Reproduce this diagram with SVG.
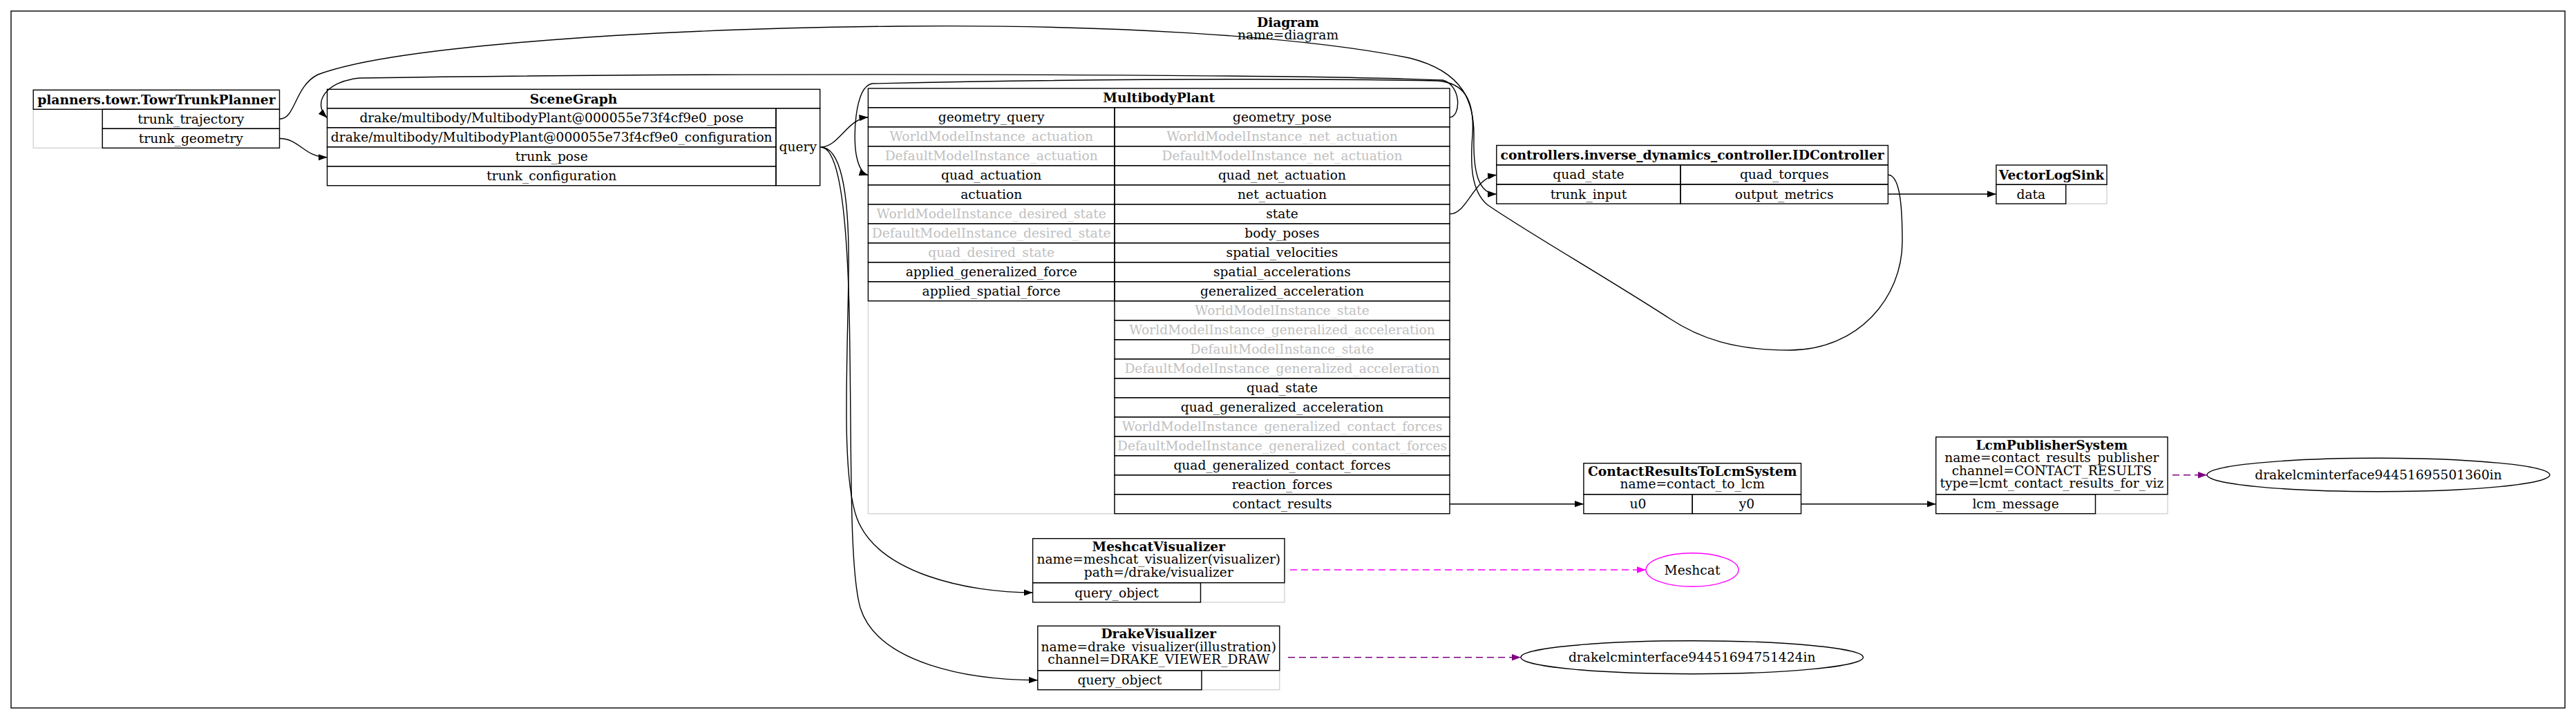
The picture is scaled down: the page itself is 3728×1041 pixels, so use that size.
<svg xmlns="http://www.w3.org/2000/svg" width="3728" height="1041" viewBox="0 0 3728 1041">
<style>
.t{font-family:"DejaVu Serif",serif;font-size:18.67px;text-anchor:middle;fill:#000}
.b{font-weight:bold}
.g{fill:#c0c0c0}
.c{fill:none;stroke:#000;stroke-width:1.4}
.e{fill:none;stroke:#d3d3d3;stroke-width:1.4}
.ed{fill:none;stroke:#000;stroke-width:1.4}
.dp{fill:none;stroke:#800080;stroke-width:1.6;stroke-dasharray:10,6}
.dm{fill:none;stroke:#ff00ff;stroke-width:1.6;stroke-dasharray:10,6}
</style>
<defs>
<marker id="ah" markerUnits="userSpaceOnUse" markerWidth="14" markerHeight="10" refX="13" refY="4.7" orient="auto"><path d="M0,0L13,4.7L0,9.4z" fill="#000"/></marker>
<marker id="ahp" markerUnits="userSpaceOnUse" markerWidth="14" markerHeight="10" refX="13" refY="4.7" orient="auto"><path d="M0,0L13,4.7L0,9.4z" fill="#800080"/></marker>
<marker id="ahm" markerUnits="userSpaceOnUse" markerWidth="14" markerHeight="10" refX="13" refY="4.7" orient="auto"><path d="M0,0L13,4.7L0,9.4z" fill="#ff00ff"/></marker>
</defs>
<rect x="0" y="0" width="3728" height="1041" fill="#fff"/>
<g id="diagram">
<rect x="16" y="16" width="3696" height="1009" fill="none" stroke="#000" stroke-width="1.4"/>
<text class="t b" x="1864" y="38.5">Diagram</text>
<text class="t" x="1864" y="57">name=diagram</text>
</g>

<g id="towr">
<rect class="e" x="48.2" y="158.3" width="100" height="56"/>
<rect class="c" x="48.2" y="130.3" width="356.3" height="28"/>
<rect class="c" x="148.2" y="158.3" width="256.3" height="28"/>
<rect class="c" x="148.2" y="186.3" width="256.3" height="28"/>
<text class="t b" x="226.35" y="150.8">planners.towr.TowrTrunkPlanner</text>
<text class="t" x="276.35" y="178.8">trunk_trajectory</text>
<text class="t" x="276.35" y="206.8">trunk_geometry</text>
</g>

<g id="scenegraph">
<rect class="c" x="473.5" y="129.3" width="713.2" height="27.4"/>
<rect class="c" x="473.5" y="156.7" width="649.5" height="28"/>
<rect class="c" x="473.5" y="184.7" width="649.5" height="28"/>
<rect class="c" x="473.5" y="212.7" width="649.5" height="28"/>
<rect class="c" x="473.5" y="240.7" width="649.5" height="28"/>
<rect class="c" x="1123" y="156.7" width="63.7" height="112"/>
<text class="t b" x="830.1" y="149.5">SceneGraph</text>
<text class="t" x="798.25" y="177.2">drake/multibody/MultibodyPlant@000055e73f4cf9e0_pose</text>
<text class="t" x="798.25" y="205.2">drake/multibody/MultibodyPlant@000055e73f4cf9e0_configuration</text>
<text class="t" x="798.25" y="233.2">trunk_pose</text>
<text class="t" x="798.25" y="261.2">trunk_configuration</text>
<text class="t" x="1154.85" y="219.2">query</text>
</g>

<g id="plant">
<rect class="e" x="1256.4" y="435.7" width="356.6" height="308"/>
<rect class="c" x="1256.4" y="128" width="841.6" height="27.7"/>
<rect class="c" x="1256.4" y="155.7" width="356.6" height="28"/>
<rect class="c" x="1256.4" y="183.7" width="356.6" height="28"/>
<rect class="c" x="1256.4" y="211.7" width="356.6" height="28"/>
<rect class="c" x="1256.4" y="239.7" width="356.6" height="28"/>
<rect class="c" x="1256.4" y="267.7" width="356.6" height="28"/>
<rect class="c" x="1256.4" y="295.7" width="356.6" height="28"/>
<rect class="c" x="1256.4" y="323.7" width="356.6" height="28"/>
<rect class="c" x="1256.4" y="351.7" width="356.6" height="28"/>
<rect class="c" x="1256.4" y="379.7" width="356.6" height="28"/>
<rect class="c" x="1256.4" y="407.7" width="356.6" height="28"/>
<rect class="c" x="1613" y="155.7" width="485" height="28"/>
<rect class="c" x="1613" y="183.7" width="485" height="28"/>
<rect class="c" x="1613" y="211.7" width="485" height="28"/>
<rect class="c" x="1613" y="239.7" width="485" height="28"/>
<rect class="c" x="1613" y="267.7" width="485" height="28"/>
<rect class="c" x="1613" y="295.7" width="485" height="28"/>
<rect class="c" x="1613" y="323.7" width="485" height="28"/>
<rect class="c" x="1613" y="351.7" width="485" height="28"/>
<rect class="c" x="1613" y="379.7" width="485" height="28"/>
<rect class="c" x="1613" y="407.7" width="485" height="28"/>
<rect class="c" x="1613" y="435.7" width="485" height="28"/>
<rect class="c" x="1613" y="463.7" width="485" height="28"/>
<rect class="c" x="1613" y="491.7" width="485" height="28"/>
<rect class="c" x="1613" y="519.7" width="485" height="28"/>
<rect class="c" x="1613" y="547.7" width="485" height="28"/>
<rect class="c" x="1613" y="575.7" width="485" height="28"/>
<rect class="c" x="1613" y="603.7" width="485" height="28"/>
<rect class="c" x="1613" y="631.7" width="485" height="28"/>
<rect class="c" x="1613" y="659.7" width="485" height="28"/>
<rect class="c" x="1613" y="687.7" width="485" height="28"/>
<rect class="c" x="1613" y="715.7" width="485" height="28"/>
<text class="t b" x="1677.2" y="148.3">MultibodyPlant</text>
<text class="t" x="1434.7" y="176.2">geometry_query</text>
<text class="t g" x="1434.7" y="204.2">WorldModelInstance_actuation</text>
<text class="t g" x="1434.7" y="232.2">DefaultModelInstance_actuation</text>
<text class="t" x="1434.7" y="260.2">quad_actuation</text>
<text class="t" x="1434.7" y="288.2">actuation</text>
<text class="t g" x="1434.7" y="316.2">WorldModelInstance_desired_state</text>
<text class="t g" x="1434.7" y="344.2">DefaultModelInstance_desired_state</text>
<text class="t g" x="1434.7" y="372.2">quad_desired_state</text>
<text class="t" x="1434.7" y="400.2">applied_generalized_force</text>
<text class="t" x="1434.7" y="428.2">applied_spatial_force</text>
<text class="t" x="1855.5" y="176.2">geometry_pose</text>
<text class="t g" x="1855.5" y="204.2">WorldModelInstance_net_actuation</text>
<text class="t g" x="1855.5" y="232.2">DefaultModelInstance_net_actuation</text>
<text class="t" x="1855.5" y="260.2">quad_net_actuation</text>
<text class="t" x="1855.5" y="288.2">net_actuation</text>
<text class="t" x="1855.5" y="316.2">state</text>
<text class="t" x="1855.5" y="344.2">body_poses</text>
<text class="t" x="1855.5" y="372.2">spatial_velocities</text>
<text class="t" x="1855.5" y="400.2">spatial_accelerations</text>
<text class="t" x="1855.5" y="428.2">generalized_acceleration</text>
<text class="t g" x="1855.5" y="456.2">WorldModelInstance_state</text>
<text class="t g" x="1855.5" y="484.2">WorldModelInstance_generalized_acceleration</text>
<text class="t g" x="1855.5" y="512.2">DefaultModelInstance_state</text>
<text class="t g" x="1855.5" y="540.2">DefaultModelInstance_generalized_acceleration</text>
<text class="t" x="1855.5" y="568.2">quad_state</text>
<text class="t" x="1855.5" y="596.2">quad_generalized_acceleration</text>
<text class="t g" x="1855.5" y="624.2">WorldModelInstance_generalized_contact_forces</text>
<text class="t g" x="1855.5" y="652.2">DefaultModelInstance_generalized_contact_forces</text>
<text class="t" x="1855.5" y="680.2">quad_generalized_contact_forces</text>
<text class="t" x="1855.5" y="708.2">reaction_forces</text>
<text class="t" x="1855.5" y="736.2">contact_results</text>
</g>

<g id="idcontroller">
<rect class="c" x="2165.8" y="210.5" width="566.6" height="28.3"/>
<rect class="c" x="2165.8" y="238.8" width="266.2" height="28.1"/>
<rect class="c" x="2165.8" y="266.9" width="266.2" height="28.1"/>
<rect class="c" x="2432" y="238.8" width="300.4" height="28.1"/>
<rect class="c" x="2432" y="266.9" width="300.4" height="28.1"/>
<text class="t b" x="2449.1" y="231.1">controllers.inverse_dynamics_controller.IDController</text>
<text class="t" x="2298.9" y="259.4">quad_state</text>
<text class="t" x="2298.9" y="287.5">trunk_input</text>
<text class="t" x="2582.2" y="259.4">quad_torques</text>
<text class="t" x="2582.2" y="287.5">output_metrics</text>
</g>

<g id="vectorlogsink">
<rect class="e" x="2989.7" y="267.3" width="59.3" height="27.7"/>
<rect class="c" x="2888.9" y="239" width="160.1" height="28.3"/>
<rect class="c" x="2888.9" y="267.3" width="100.8" height="27.7"/>
<text class="t b" x="2969" y="259.6">VectorLogSink</text>
<text class="t" x="2939.3" y="287.6">data</text>
</g>

<g id="contact_to_lcm">
<rect class="c" x="2291.9" y="670.7" width="314.6" height="45"/>
<rect class="c" x="2291.9" y="715.7" width="157.3" height="28"/>
<rect class="c" x="2449.2" y="715.7" width="157.3" height="28"/>
<text class="t b" x="2449.2" y="688.7">ContactResultsToLcmSystem</text>
<text class="t" x="2449.2" y="707.2">name=contact_to_lcm</text>
<text class="t" x="2370.5" y="736.2">u0</text>
<text class="t" x="2527.9" y="736.2">y0</text>
</g>

<g id="contact_results_publisher">
<rect class="e" x="3032.5" y="715.7" width="104.5" height="28"/>
<rect class="c" x="2801.7" y="632.7" width="335.3" height="83"/>
<rect class="c" x="2801.7" y="715.7" width="230.8" height="28"/>
<text class="t b" x="2969.35" y="650.7">LcmPublisherSystem</text>
<text class="t" x="2969.35" y="669.2">name=contact_results_publisher</text>
<text class="t" x="2969.35" y="687.7">channel=CONTACT_RESULTS</text>
<text class="t" x="2969.35" y="706.2">type=lcmt_contact_results_for_viz</text>
<text class="t" x="2917.1" y="736.2">lcm_message</text>
</g>

<g id="lcm_in_1">
<ellipse cx="3442" cy="687.5" rx="248" ry="24.2" fill="none" stroke="#000" stroke-width="1.4"/>
<text class="t" x="3442" y="694">drakelcminterface94451695501360in</text>
</g>

<g id="meshcat_visualizer">
<rect class="e" x="1737.5" y="843.7" width="121.5" height="28.3"/>
<rect class="c" x="1494.6" y="779.7" width="364.4" height="64"/>
<rect class="c" x="1494.6" y="843.7" width="242.9" height="28.3"/>
<text class="t b" x="1676.8" y="797.7">MeshcatVisualizer</text>
<text class="t" x="1676.8" y="816.2">name=meshcat_visualizer(visualizer)</text>
<text class="t" x="1676.8" y="834.7">path=/drake/visualizer</text>
<text class="t" x="1616" y="864.5">query_object</text>
</g>

<g id="meshcat">
<ellipse cx="2449" cy="825" rx="67" ry="24.3" fill="none" stroke="#ff00ff" stroke-width="1.4"/>
<text class="t" x="2449" y="831.5">Meshcat</text>
</g>

<g id="drake_visualizer">
<rect class="e" x="1739" y="970.7" width="112.8" height="28"/>
<rect class="c" x="1501.8" y="906.3" width="350" height="64.4"/>
<rect class="c" x="1501.8" y="970.7" width="237.2" height="28"/>
<text class="t b" x="1676.8" y="924.3">DrakeVisualizer</text>
<text class="t" x="1676.8" y="942.8">name=drake_visualizer(illustration)</text>
<text class="t" x="1676.8" y="961.3">channel=DRAKE_VIEWER_DRAW</text>
<text class="t" x="1620.4" y="991.2">query_object</text>
</g>

<g id="lcm_in_2">
<ellipse cx="2448.7" cy="951.7" rx="247.7" ry="24" fill="none" stroke="#000" stroke-width="1.4"/>
<text class="t" x="2448.7" y="958.2">drakelcminterface94451694751424in</text>
</g>

<g id="connectors">
<path class="ed" marker-end="url(#ah)" d="M404.5,172.3 C428,172.3 426,125 460,108 C560,70 900,42 1300,38 C1600,35 1880,52 2040,84 C2120,104 2134,150 2133,200 C2132,250 2140,281 2166,281"/>
<path class="ed" marker-end="url(#ah)" d="M404.5,200.5 C434,200.5 440,227.7 473.5,227.7"/>
<path class="ed" marker-end="url(#ah)" d="M2098,169.7 C2114,169.7 2116,124 2088,116 C1900,108 1100,104 520,113 C470,118 452,150 473.5,170.7"/>
<path class="ed" marker-end="url(#ah)" d="M1187.7,213 C1214,213 1226,172 1256.4,169.7"/>
<path class="ed" marker-end="url(#ah)" d="M2732.4,253 C2750,254 2753,300 2753,350 C2753,430 2690,507 2590,507 C2510,507 2460,490 2416,461 C2330,405 2200,330 2152,296 C2128,275 2128,235 2131,195 C2134,145 2120,120 2080,117 C1800,112 1500,116 1262,121 C1236,126 1234,205 1240,228 C1243,242 1248,251 1256.4,253.7"/>
<path class="ed" marker-end="url(#ah)" d="M2098,309.7 C2124,309.7 2132,258 2166,253.3"/>
<path class="ed" marker-end="url(#ah)" d="M1187.7,213 C1215,213 1230,270 1228,400 C1226,540 1218,690 1240,750 C1270,830 1400,858 1494.6,858"/>
<path class="ed" marker-end="url(#ah)" d="M1187.7,213 C1212,213 1225,290 1229,450 C1233,640 1228,820 1245,880 C1270,960 1400,984.7 1501.8,984.7"/>
<path class="ed" marker-end="url(#ah)" d="M2098,729.7 L2291.9,729.7"/>
<path class="ed" marker-end="url(#ah)" d="M2606.5,729.7 L2801.7,729.7"/>
<path class="ed" marker-end="url(#ah)" d="M2732.4,281 L2888.9,281"/>
<path class="dp" marker-end="url(#ahp)" d="M3144,687.7 L3194,687.7"/>
<path class="dm" marker-end="url(#ahm)" d="M1867,825 L2382,825"/>
<path class="dp" marker-end="url(#ahp)" d="M1864,951.7 L2201,951.7"/>
</g>
</svg>
